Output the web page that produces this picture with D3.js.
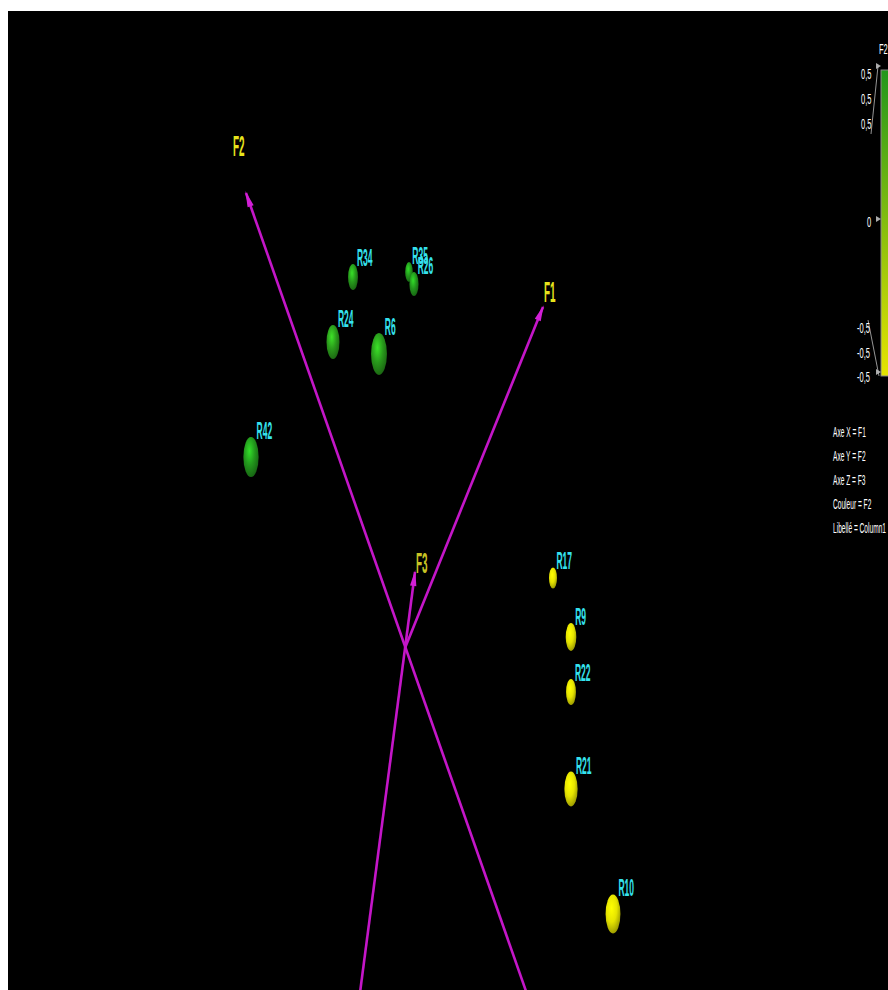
<!DOCTYPE html>
<html>
<head>
<meta charset="utf-8">
<script src="https://cdn.jsdelivr.net/npm/d3@7"></script>
<style>
  body { margin: 0; background: #fff; }
  svg { display: block; }
  text { font-family: "Liberation Sans", Arial, sans-serif; }
</style>
</head>
<body>
<script>
// projected coordinates (origin = axis crossing, 1 unit ~ 100px)
var labels = ["R34", "R35", "R26", "R24", "R6", "R42", "R17", "R9", "R22", "R21", "R10"];
var projX  = [-0.52, 0.04, 0.09, -0.72, -0.26, -1.54, 1.48, 1.66, 1.66, 1.66, 2.08];
var projY  = [3.71, 3.76, 3.64, 3.06, 2.94, 1.91, 0.70, 0.11, -0.44, -1.41, -2.66];
var depth  = [0.31, 0.08, 0.23, 0.62, 0.92, 0.85, 0.12, 0.38, 0.31, 0.65, 0.81];
var colorF2 = [0.48, 0.5, 0.5, 0.46, 0.47, 0.5, -0.5, -0.5, -0.5, -0.5, -0.5];

// axes
var axisNames = ["F1", "F2", "F3"];
var axisTipX  = [1.38, -1.59, 0.10];
var axisTipY  = [3.41, 4.55, 0.76];
var axisTailX = [0, 1.62, -0.47];
var axisTailY = [0, -4.60, -3.60];
var axisLabX  = [1.39, -1.72, 0.11];
var axisLabY  = [3.46, 4.92, 0.75];

// colour legend
var legendDomain = [-0.5, 0.5];
var topTicks = ["0,5", "0,5", "0,5"];
var midTicks = ["0"];
var bottomTicks = ["-0,5", "-0,5", "-0,5"];
var infoLines = ["Axe X = F1", "Axe Y = F2", "Axe Z = F3", "Couleur = F2", "Libellé = Column1"];

var width = 888, height = 990;
var svg = d3.select("body").append("svg")
    .attr("width", width)
    .attr("height", height);

var xScale = d3.scaleLinear().domain([-4.05, 4.83]).range([0, width]);
var yScale = d3.scaleLinear().domain([-3.42, 6.48]).range([height, 0]);
var rScale = d3.scaleLinear().domain([0, 1]).range([9, 22]);
var colorScale = d3.scaleLinear().domain(legendDomain).range(["#e6e400", "#22961c"]);

svg.append("rect").attr("width", width).attr("height", height).attr("fill", "#fff");
svg.append("rect")
    .attr("x", 8).attr("y", 11)
    .attr("width", width - 8).attr("height", height - 11)
    .attr("fill", "#000");

var defs = svg.append("defs");
defs.append("clipPath").attr("id", "plotclip")
  .append("rect").attr("x", 8).attr("y", 11).attr("width", width - 8).attr("height", height - 11);

var plot = svg.append("g").attr("clip-path", "url(#plotclip)");

// condensed text helper
function ctext(g, x, y, txt, size, fill, sx) {
  return g.append("text")
      .attr("transform", "translate(" + x + "," + y + ") scale(" + sx + ",1)")
      .attr("font-size", size)
      .attr("fill", fill)
      .text(txt);
}

// axis lines
axisNames.forEach(function(name, i) {
  var x1 = xScale(axisTailX[i]), y1 = yScale(axisTailY[i]);
  var x2 = xScale(axisTipX[i]), y2 = yScale(axisTipY[i]);
  plot.append("line")
      .attr("x1", x1).attr("y1", y1).attr("x2", x2).attr("y2", y2)
      .attr("stroke", "#c416c8")
      .attr("stroke-width", 2.6);
  // little cone at the tip
  var ox = xScale(0), oy = yScale(0);
  var dx = x2 - ox, dy = y2 - oy, len = Math.sqrt(dx * dx + dy * dy);
  var ux = dx / len, uy = dy / len;
  var bx = x2 - ux * 14, by = y2 - uy * 14;
  plot.append("path")
      .attr("d", "M" + (x2 + ux * 2) + "," + (y2 + uy * 2) +
                 "L" + (bx - uy * 3.2) + "," + (by + ux * 3.2) +
                 "L" + (bx + uy * 3.2) + "," + (by - ux * 3.2) + "Z")
      .attr("fill", "#d21fd6");
  ctext(plot, xScale(axisLabX[i]), yScale(axisLabY[i]), name, 30,
        i == 2 ? "#c8c424" : "#e8e41c", 0.33)
      .attr("font-weight", "bold");
});

// spheres
var order = d3.range(labels.length);
order.forEach(function(i) {
  var c = colorScale(colorF2[i]);
  var gid = "sph" + i;
  var grad = defs.append("radialGradient").attr("id", gid)
      .attr("cx", "40%").attr("cy", "35%").attr("r", "65%");
  grad.append("stop").attr("offset", "0%").attr("stop-color", d3.color(c).brighter(1.1));
  grad.append("stop").attr("offset", "55%").attr("stop-color", c);
  grad.append("stop").attr("offset", "100%").attr("stop-color", d3.color(c).darker(1));
  var cx = xScale(projX[i]), cy = yScale(projY[i]);
  var ry = rScale(depth[i]), rx = ry * 0.38;
  plot.append("ellipse")
      .attr("cx", cx).attr("cy", cy).attr("rx", rx).attr("ry", ry)
      .attr("fill", "url(#" + gid + ")");
  ctext(plot, cx + rx * 0.6 + 1, cy - ry + 2, labels[i], 23, "#35e2ee", 0.37)
      .attr("font-weight", "bold");
});

// colour bar
var barTop = 70, barBottom = 376;
var barScale = d3.scaleLinear().domain(legendDomain).range([barBottom - 4, barTop - 4]);
var bg = defs.append("linearGradient").attr("id", "bargrad")
    .attr("x1", 0).attr("y1", 1).attr("x2", 0).attr("y2", 0);
d3.range(0, 1.01, 0.25).forEach(function(t) {
  bg.append("stop").attr("offset", t).attr("stop-color", colorScale(legendDomain[0] + t * (legendDomain[1] - legendDomain[0])));
});
svg.append("rect")
    .attr("x", 881).attr("y", barTop)
    .attr("width", 12).attr("height", barBottom - barTop)
    .attr("fill", "url(#bargrad)")
    .attr("stroke", "#888").attr("stroke-width", 1);
ctext(svg, 879, 54, "F2", 15, "#fff", 0.5);

// markers on the bar
[legendDomain[1], 0, legendDomain[0]].forEach(function(v) {
  var y = barScale(v);
  svg.append("path")
      .attr("d", "M876," + (y - 3) + "L881," + y + "L876," + (y + 3) + "Z")
      .attr("fill", "#aaa");
});
// leader lines
var yTop = barScale(legendDomain[1]), yBot = barScale(legendDomain[0]);
svg.append("line").attr("x1", 878).attr("y1", yTop).attr("x2", 871).attr("y2", yTop + 68)
    .attr("stroke", "#bbb").attr("stroke-width", 0.8);
svg.append("line").attr("x1", 868).attr("y1", yBot - 52).attr("x2", 879).attr("y2", yBot + 4)
    .attr("stroke", "#bbb").attr("stroke-width", 0.8);

topTicks.forEach(function(t, k) {
  ctext(svg, 861, yTop + 13 + k * 25, t, 15, "#fff", 0.5);
});
midTicks.forEach(function(t) {
  ctext(svg, 867, barScale(0) + 8, t, 15, "#fff", 0.5);
});
bottomTicks.forEach(function(t, k) {
  ctext(svg, 857, yBot - 39 + k * 24.5, t, 15, "#fff", 0.5);
});

// info lines
infoLines.forEach(function(t, k) {
  ctext(svg, 833, 437 + k * 24, t, 15, "#fff", 0.44);
});
</script>
</body>
</html>
